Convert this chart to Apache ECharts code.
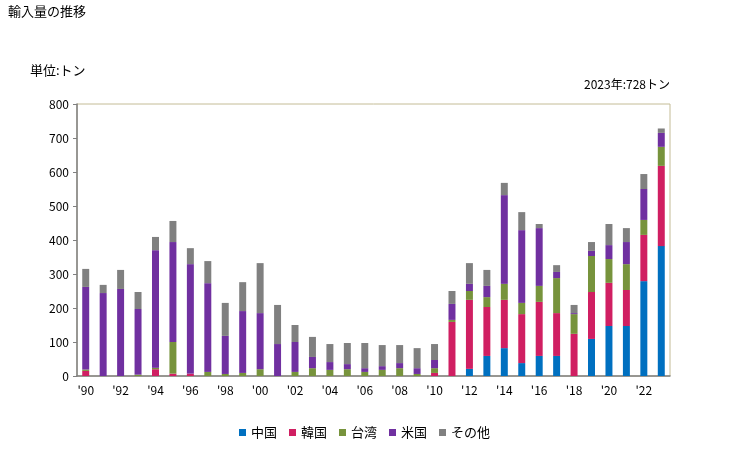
<!DOCTYPE html>
<html><head><meta charset="utf-8">
<script src="https://cdn.jsdelivr.net/npm/echarts@6/dist/echarts.min.js"></script>
<style>html,body{margin:0;padding:0;background:#fff}#c{width:729px;height:450px}</style>
</head><body><div id="c"></div>
<script>
const years = ["'90","'91","'92","'93","'94","'95","'96","'97","'98","'99","'00","'01","'02","'03","'04","'05","'06","'07","'08","'09","'10","'11","'12","'13","'14","'15","'16","'17","'18","'19","'20","'21","'22","'23"];
const china  = [0,0,0,0,0,0,0,0,0,0,0,0,0,0,0,0,0,0,0,0,0,0,21,59,82,38,59,59,0,109,147,147,279,382];
const korea  = [15,0,0,0,20,7,7,0,0,0,0,0,0,0,0,0,0,0,0,0,9,159,203,144,142,144,159,126,124,138,127,106,136,236];
const taiwan = [4,0,0,4,4,93,0,12,6,9,20,0,12,23,18,20,12,18,23,6,14,6,26,29,47,33,47,103,58,106,70,76,44,56];
const usa    = [243,244,256,193,346,294,322,261,112,182,165,94,88,33,23,15,11,11,15,17,24,47,21,33,261,214,170,18,3,15,41,65,91,41];
const other  = [53,24,56,50,39,62,47,65,97,85,147,115,50,59,53,62,74,62,53,59,47,38,61,47,36,53,12,20,24,26,62,41,44,13];
const seriesNames = ['中国','韓国','台湾','米国','その他'];
const colors = ['#0070c0','#d01f62','#77933c','#7030a0','#808080'];
const dataSets = [china, korea, taiwan, usa, other];
const yTicks = {min:0, max:800, interval:100};

const font = '"Noto Sans CJK JP", "Noto Sans", sans-serif';
const chart = echarts.init(document.getElementById('c'));
chart.setOption({
  animation:false,
  textStyle:{fontFamily:font},
  graphic:[
    {type:'text', left:8, top:5, style:{text:'輸入量の推移', font:'13px '+font, fill:'#000'}},
    {type:'text', left:30, top:64, style:{text:'単位:トン', font:'13px '+font, fill:'#000'}},
    {type:'text', right:59, top:78, style:{text:'2023年:728トン', font:'12px '+font, fill:'#000', textAlign:'right'}}
  ],
  grid:{left:77, right:59, top:104, bottom:74, show:true, borderColor:'#c4bc96', borderWidth:1},
  legend:{bottom:6, left:'center', itemWidth:7, itemHeight:7, itemGap:12, icon:'rect',
    textStyle:{fontSize:13, color:'#000', fontFamily:font}, data:seriesNames},
  xAxis:{type:'category', data:years,
    axisLine:{lineStyle:{color:'#808080', width:1.5}}, axisTick:{show:false},
    axisLabel:{interval:1, color:'#000', fontSize:12, margin:8}},
  yAxis:{type:'value', min:yTicks.min, max:yTicks.max, interval:yTicks.interval,
    axisLine:{show:true, lineStyle:{color:'#808080', width:1.5}},
    axisTick:{show:true, length:4, lineStyle:{color:'#808080'}},
    splitLine:{show:false},
    axisLabel:{color:'#000', fontSize:12, margin:8}},
  series: seriesNames.map((n,i)=>({
    name:n, type:'bar', stack:'total', data:dataSets[i], barWidth:'40%',
    itemStyle:{color:colors[i]}
  }))
});
</script></body></html>
